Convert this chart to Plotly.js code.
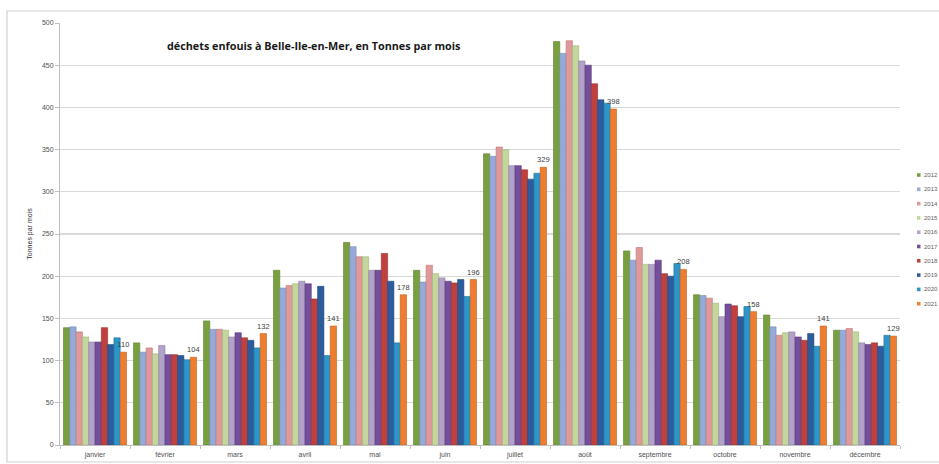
<!DOCTYPE html>
<html>
<head>
<meta charset="utf-8">
<script src="https://cdn.plot.ly/plotly-3.0.1.min.js"></script>
<style>html,body{margin:0;padding:0;background:#fff;}#chart{width:939px;height:464px;}</style>
</head>
<body>
<div id="chart"></div>
<script>
const months = ['janvier','février','mars','avril','mai','juin','juillet','août','septembre','octobre','novembre','décembre'];
const years = ['2012','2013','2014','2015','2016','2017','2018','2019','2020','2021'];
const v2012 = [139,121,147,207,240,207,345,478,230,178,154,136];
const v2013 = [140,110,137,186,235,193,342,464,219,177,140,136];
const v2014 = [134,115,137,189,223,213,353,479,234,174,130,138];
const v2015 = [128,108,136,191,223,203,350,473,214,168,133,134];
const v2016 = [122,118,128,194,207,198,331,455,214,152,134,121];
const v2017 = [122,107,133,191,207,194,331,450,219,167,128,119];
const v2018 = [139,107,127,173,227,192,326,428,203,165,124,121];
const v2019 = [119,106,124,188,194,196,315,409,200,152,132,117];
const v2020 = [127,101,115,106,121,176,322,405,215,164,117,130];
const v2021 = [110,104,132,141,178,196,329,398,208,158,141,129];
const series = [v2012,v2013,v2014,v2015,v2016,v2017,v2018,v2019,v2020,v2021];
const colors = ['#79A03F','#95AAD9','#E0999A','#C3D69B','#B3A2C7','#74509C','#C0403E','#2C5C9E','#2E95C8','#EE7D30'];
const borders = ['#5E7F2E','#7489B5','#B87776','#A0B27A','#9080A5','#573A78','#962E2C','#1F4477','#1F729C','#C0621F'];

const traces = series.map((vals, i) => {
  const t = {
    type: 'bar', name: years[i], x: months, y: vals,
    marker: {color: colors[i], line: {color: borders[i], width: 0.6}},
    hoverinfo: 'y', showlegend: false
  };
  if (i === series.length - 1) {
    t.text = vals.map(v => String(v));
    t.textposition = 'outside';
    t.constraintext = 'none';
    t.cliponaxis = false;
    t.textfont = {size: 7.5, color: '#404040', family: 'Liberation Sans'};
  }
  return t;
});

// plot area geometry (pixels) used to place the custom legend in paper coords
const W = 939, H = 464, ML = 60, MR = 39, MT = 23, MB = 19;
const PW = W - ML - MR, PH = H - MT - MB;
const px = x => (x - ML) / PW;
const py = y => (H - MB - y) / PH;

const annotations = [{
  xref: 'paper', yref: 'paper', x: px(165), y: py(46), xanchor: 'left', yanchor: 'middle',
  text: '<b>déchets enfouis à Belle-Ile-en-Mer, en Tonnes par mois</b>', showarrow: false,
  font: {family: 'Open Sans', size: 10.8, color: '#1a1a1a'}
}];
const shapes = [{type: 'rect', xref: 'paper', yref: 'paper', x0: px(7), x1: px(960), y0: py(462), y1: py(11),
          line: {color: '#d0d0d0', width: 1.2}, fillcolor: 'rgba(0,0,0,0)', layer: 'below'}];

years.forEach((yr, i) => {
  const yc = 175 + 14.3 * i;
  shapes.push({type: 'rect', xref: 'paper', yref: 'paper', x0: px(917), x1: px(920.5),
               y0: py(yc + 1.8), y1: py(yc - 1.8), fillcolor: colors[i], line: {width: 0}});
  annotations.push({xref: 'paper', yref: 'paper', x: px(922), y: py(yc), xanchor: 'left', yanchor: 'middle',
                    text: yr, showarrow: false, font: {size: 6, color: '#606060'}});
});

const layout = {
  width: W, height: H,
  margin: {l: ML, r: MR, t: MT, b: MB},
  paper_bgcolor: '#ffffff', plot_bgcolor: '#ffffff',
  barmode: 'group', bargap: 0.1, bargroupgap: 0,
  font: {family: 'Liberation Sans', size: 7, color: '#505050'},
  showlegend: false,
  xaxis: {type: 'category', showgrid: false, showline: true, linecolor: '#bfbfbf', linewidth: 1,
          ticks: 'outside', ticklen: 3, tickcolor: '#bfbfbf', tickfont: {size: 7, color: '#505050'},
          tickson: 'boundaries', ticklabelstandoff: 3, fixedrange: true},
  yaxis: {range: [0, 500], dtick: 50, showgrid: true, gridcolor: '#d9d9d9', gridwidth: 1.3,
          showline: true, linecolor: '#bfbfbf', linewidth: 1, ticks: 'outside', ticklen: 4,
          tickcolor: '#bfbfbf', tickfont: {size: 7, color: '#505050'}, zeroline: false,
          title: {text: 'Tonnes par mois', font: {size: 7, color: '#303030'}, standoff: 8}},
  annotations: annotations,
  shapes: shapes
};

Plotly.newPlot('chart', traces, layout, {displayModeBar: false, staticPlot: true});
</script>
</body>
</html>
